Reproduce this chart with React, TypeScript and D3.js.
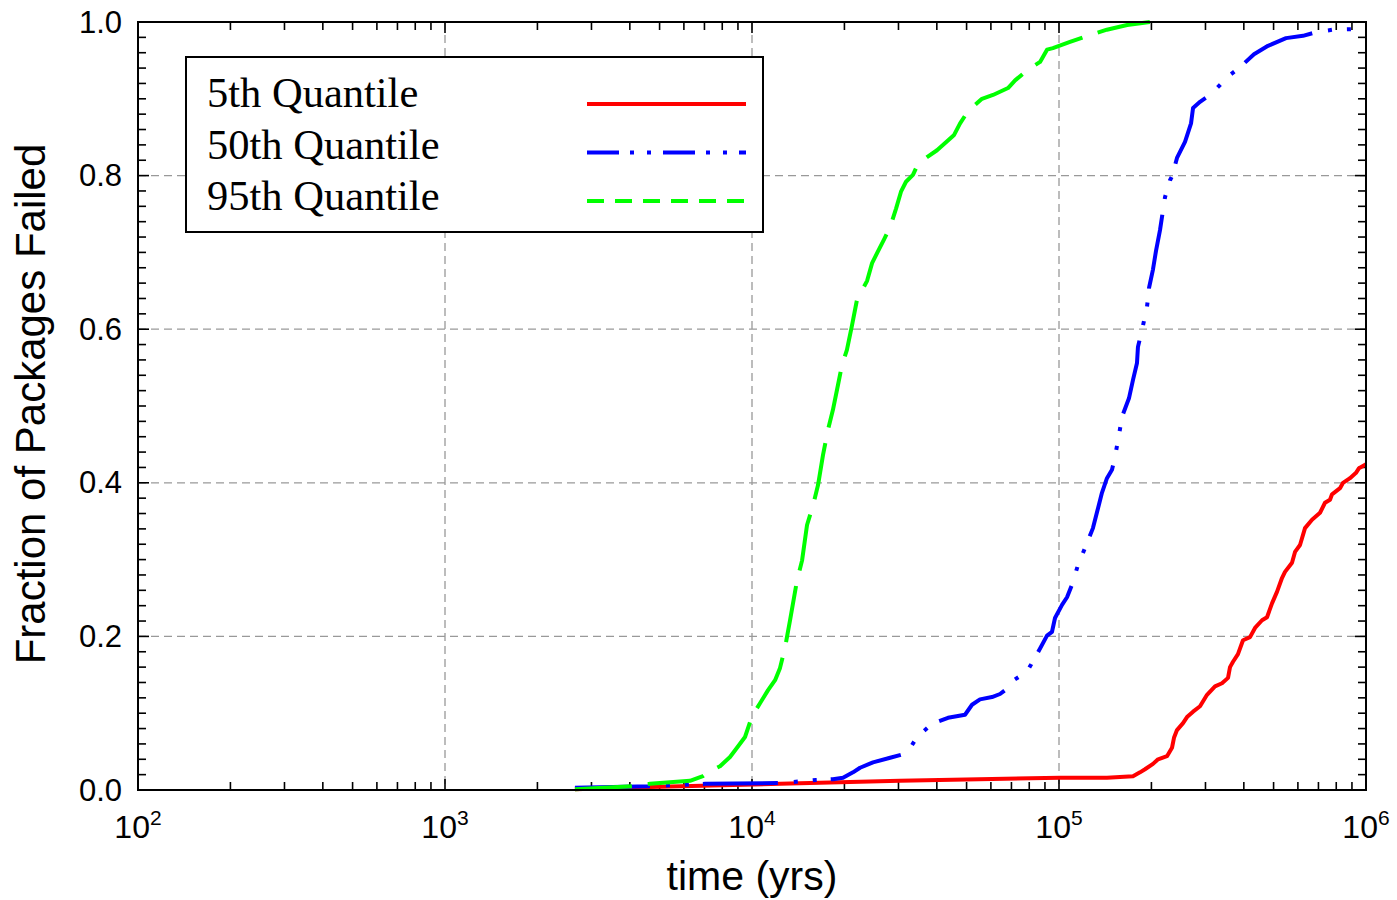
import * as d3 from 'd3';

// time in years, fraction of packages failed
const q5Time = [2650, 4650, 12340, 30340, 100800, 143300, 174200, 183600, 190600, 202400, 210200, 224800, 233400, 236900, 242300, 253500, 261200, 273300, 288000, 303500, 322200, 339600, 355300, 360600, 368800, 382800, 397500, 419000, 435000, 458500, 476000, 494100, 512900, 532500, 544700, 574100, 587200, 609600, 632900, 667000, 708300, 735300, 763400, 775000, 822900, 841700, 887000, 927800, 948900, 1000000];
const q5Frac = [0.001, 0.004, 0.008, 0.012, 0.016, 0.016, 0.018, 0.023, 0.027, 0.034, 0.040, 0.044, 0.055, 0.068, 0.078, 0.087, 0.095, 0.102, 0.109, 0.124, 0.135, 0.139, 0.146, 0.160, 0.167, 0.177, 0.195, 0.199, 0.211, 0.221, 0.225, 0.243, 0.258, 0.276, 0.284, 0.296, 0.310, 0.319, 0.341, 0.352, 0.361, 0.374, 0.378, 0.385, 0.393, 0.400, 0.406, 0.413, 0.419, 0.424];

const q50Time = [2650, 4650, 7030, 12340, 16170, 18350, 19790, 21330, 22490, 24780, 28180, 31990, 34470, 38580, 43500, 49410, 52080, 55290, 60500, 64250, 67710, 68730, 78660, 84790, 91410, 94890, 97050, 102300, 106200, 110200, 115300, 122400, 129000, 134000, 138000, 143300, 148800, 152200, 156800, 160400, 169000, 174200, 179500, 180800, 186400, 193500, 196500, 202400, 207000, 213300, 216500, 221500, 229900, 233400, 242300, 257300, 269200, 273300, 288000, 310400, 334500, 352600, 385800, 431700, 479600, 548900, 623400, 692300, 780600, 956100];
const q50Frac = [0.003, 0.005, 0.008, 0.009, 0.013, 0.014, 0.016, 0.023, 0.029, 0.036, 0.042, 0.048, 0.069, 0.086, 0.094, 0.098, 0.111, 0.118, 0.121, 0.125, 0.132, 0.139, 0.154, 0.177, 0.201, 0.206, 0.224, 0.241, 0.251, 0.267, 0.293, 0.318, 0.341, 0.367, 0.387, 0.406, 0.417, 0.434, 0.462, 0.486, 0.510, 0.534, 0.556, 0.577, 0.599, 0.629, 0.654, 0.678, 0.702, 0.729, 0.746, 0.772, 0.794, 0.799, 0.823, 0.844, 0.868, 0.888, 0.896, 0.905, 0.918, 0.928, 0.940, 0.958, 0.969, 0.979, 0.982, 0.987, 0.990, 0.991];

const q95Time = [2650, 4060, 4650, 6280, 6920, 7410, 7870, 8480, 8935, 9490, 10000, 10620, 11280, 11890, 12340, 12820, 13300, 14020, 14560, 15110, 15810, 16410, 17030, 17680, 18350, 19050, 19630, 20380, 21170, 21970, 23710, 24610, 25550, 26930, 28180, 29460, 30570, 31740, 33440, 34710, 37170, 40060, 45530, 47620, 50580, 56110, 60950, 68230, 71940, 79290, 86760, 91410, 95520, 108600, 126200, 143200, 166700, 197700];
const q95Frac = [0.001, 0.005, 0.008, 0.012, 0.018, 0.026, 0.031, 0.043, 0.055, 0.069, 0.096, 0.113, 0.130, 0.143, 0.159, 0.186, 0.221, 0.273, 0.299, 0.345, 0.371, 0.397, 0.436, 0.469, 0.495, 0.527, 0.553, 0.573, 0.605, 0.638, 0.663, 0.686, 0.699, 0.717, 0.733, 0.757, 0.779, 0.792, 0.801, 0.815, 0.824, 0.833, 0.853, 0.868, 0.884, 0.900, 0.905, 0.914, 0.924, 0.938, 0.948, 0.964, 0.966, 0.974, 0.983, 0.990, 0.996, 1.0];

const seriesNames = ['5th Quantile', '50th Quantile', '95th Quantile'];
const xDecades = [2, 3, 4, 5, 6];
const yTicks = [0, 0.2, 0.4, 0.6, 0.8, 1.0];

const W = 1397;
const H = 900;
const left = 138, right = 1366, top = 22, bottom = 790;

export default function App() {
  const x = d3.scaleLog().domain([1e2, 1e6]).range([left, right]);
  const y = d3.scaleLinear().domain([0, 1]).range([bottom, top]);

  const line = d3.line<[number, number]>()
    .x(d => x(d[0]))
    .y(d => y(d[1]));

  const series = [
    { name: seriesNames[0], t: q5Time, f: q5Frac, color: '#ff0000', dash: 'none', legendDash: 'none' },
    { name: seriesNames[1], t: q50Time, f: q50Frac, color: '#0000ff', dash: '75 16 4 15 4 14', legendDash: '32 11 4 13 4 12' },
    { name: seriesNames[2], t: q95Time, f: q95Frac, color: '#00ff00', dash: '57 16', legendDash: '17 11' },
  ];

  // minor ticks on x (2..9 per decade) and y (every 0.02)
  const xMinor: number[] = [];
  for (let e = 2; e < 6; e++) {
    for (let m = 2; m <= 9; m++) xMinor.push(m * Math.pow(10, e));
  }
  const yMinor = d3.range(1, 50).map(i => i * 0.02).filter(v => Math.abs(v * 5 - Math.round(v * 5)) > 1e-6);

  const sans = '"Liberation Sans", Arial, sans-serif';
  const serif = '"Liberation Serif", "Times New Roman", serif';
  const majorLen = 11, minorLen = 8;

  return (
    <svg width={W} height={H} style={{ position: 'absolute', left: 0, top: 0 }}>
      <rect width={W} height={H} fill="#fff" />

      {/* grid */}
      <g stroke="#999" strokeWidth={1.3} strokeDasharray="8 5">
        {xDecades.slice(1, -1).map(e => (
          <line key={'gx' + e} x1={x(Math.pow(10, e))} x2={x(Math.pow(10, e))} y1={top} y2={bottom} />
        ))}
        {yTicks.slice(1, -1).map(v => (
          <line key={'gy' + v} x1={left} x2={right} y1={y(v)} y2={y(v)} />
        ))}
      </g>

      {/* ticks */}
      <g stroke="#000" strokeWidth={1.6}>
        {xDecades.map(e => {
          const px = x(Math.pow(10, e));
          return (
            <g key={'tx' + e}>
              <line x1={px} x2={px} y1={bottom} y2={bottom - majorLen} />
              <line x1={px} x2={px} y1={top} y2={top + majorLen} />
            </g>
          );
        })}
        {xMinor.map(v => (
          <g key={'mx' + v}>
            <line x1={x(v)} x2={x(v)} y1={bottom} y2={bottom - minorLen} />
            <line x1={x(v)} x2={x(v)} y1={top} y2={top + minorLen} />
          </g>
        ))}
        {yTicks.map(v => (
          <g key={'ty' + v}>
            <line x1={left} x2={left + majorLen} y1={y(v)} y2={y(v)} />
            <line x1={right} x2={right - majorLen} y1={y(v)} y2={y(v)} />
          </g>
        ))}
        {yMinor.map(v => (
          <g key={'my' + v}>
            <line x1={left} x2={left + minorLen} y1={y(v)} y2={y(v)} />
            <line x1={right} x2={right - minorLen} y1={y(v)} y2={y(v)} />
          </g>
        ))}
      </g>

      {/* curves */}
      <g fill="none" strokeWidth={4} strokeLinejoin="round">
        {series.map(s => (
          <path
            key={s.name}
            d={line(s.t.map((t, i) => [t, s.f[i]] as [number, number])) ?? ''}
            stroke={s.color}
            strokeDasharray={s.dash}
          />
        ))}
      </g>

      {/* frame */}
      <rect x={left} y={top} width={right - left} height={bottom - top} fill="none" stroke="#000" strokeWidth={2} />

      {/* tick labels */}
      <g fontFamily={sans} fontSize={31} fill="#000">
        {yTicks.map(v => (
          <text key={'ly' + v} x={122} y={y(v)} textAnchor="end" dominantBaseline="central">
            {v.toFixed(1)}
          </text>
        ))}
        {xDecades.map(e => (
          <text key={'lx' + e} x={x(Math.pow(10, e))} y={838} textAnchor="middle" fontSize={32}>
            10<tspan dy={-13} fontSize={21}>{e}</tspan>
          </text>
        ))}
      </g>

      {/* axis titles */}
      <text x={752} y={890} textAnchor="middle" fontFamily={sans} fontSize={41}>time (yrs)</text>
      <text transform="translate(45,404) rotate(-90)" textAnchor="middle" fontFamily={sans} fontSize={42}>
        Fraction of Packages Failed
      </text>

      {/* legend */}
      <g>
        <rect x={186} y={57} width={577} height={175} fill="#fff" stroke="#000" strokeWidth={2} />
        {series.map((s, i) => (
          <g key={'lg' + s.name}>
            <text x={207} y={107 + i * 51.5} fontFamily={serif} fontSize={42.5}>{s.name}</text>
            <line x1={587} x2={746} y1={104 + i * 48.5} y2={104 + i * 48.5}
              stroke={s.color} strokeWidth={4} strokeDasharray={s.legendDash} />
          </g>
        ))}
      </g>
    </svg>
  );
}
